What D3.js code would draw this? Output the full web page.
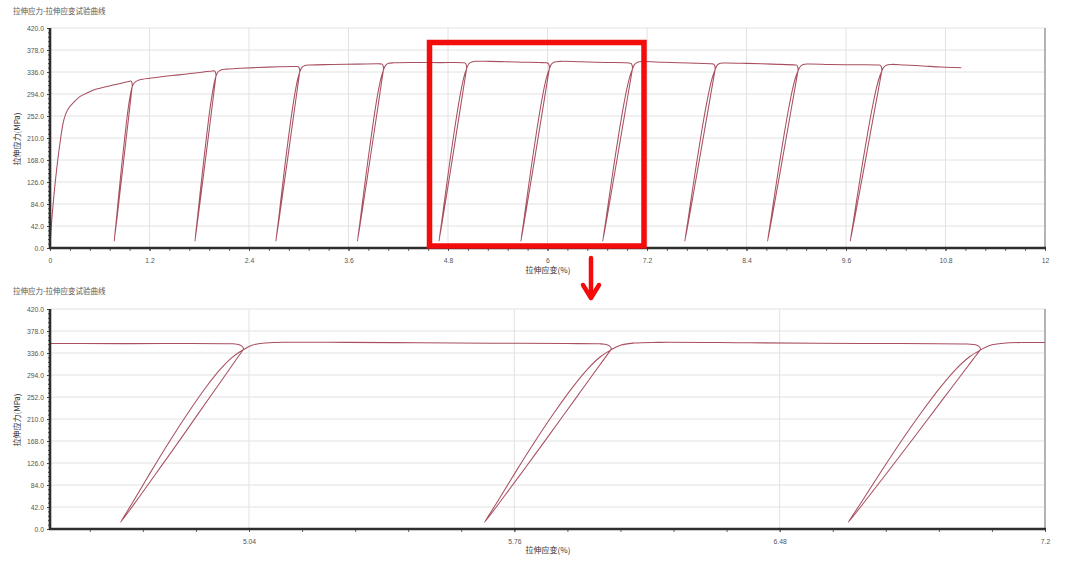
<!DOCTYPE html>
<html><head><meta charset="utf-8">
<script src="https://cdn.jsdelivr.net/npm/d3@7/dist/d3.min.js"></script>
<style>body{margin:0;background:#fff}svg{display:block}</style>
</head><body>
<svg id="c" width="1080" height="565"></svg>
<script>
// ---------- data ----------
const chartTitle = "拉伸应力-拉伸应变试验曲线";
const yAxisLabel = "拉伸应力(MPa)";
const xAxisLabel = "拉伸应变(%)";
const yTicks = [0, 42, 84, 126, 168, 210, 252, 294, 336, 378, 420];
const xTicksTop = [0, 1.2, 2.4, 3.6, 4.8, 6, 7.2, 8.4, 9.6, 10.8, 12];
const xTicksBottom = [5.04, 5.76, 6.48, 7.2];
const xDomainTop = [0, 12];
const xDomainBottom = [4.5, 7.2];
const yDomain = [0, 420];

// [strain %, stress MPa]
const initialLoading = [[0,0],[0.01,28],[0.04,88],[0.08,150],[0.12,200],[0.16,240],[0.19,256],[0.22,266],[0.28,277],[0.36,289],[0.46,297],[0.56,303.5],[0.66,307.5],[0.76,311],[0.86,314.5],[0.95,318]];
const cycle1 = [[0.975,318.8],[0.987,316.5],[0.992,311],[0.99,307],[0.979,292.1],[0.947,247.3],[0.914,202.6],[0.882,157.9],[0.845,107.8],[0.809,58.2],[0.774,12.8],[0.796,47],[0.828,99.7],[0.860,150.7],[0.893,199],[0.925,243.8],[0.951,275.1],[0.973,295.6],[0.99,307],[1.015,315],[1.05,319],[1.085,321],[1.2,324],[1.37,327.5],[1.55,330.5],[1.69,333],[1.85,336],[1.96,338]];
const cycle2 = [[1.985,338],[1.997,335],[2.002,329.5],[2.0,327],[1.987,311],[1.950,263.3],[1.912,215.5],[1.874,167.7],[1.831,114.3],[1.788,61.2],[1.748,12.8],[1.773,49.3],[1.811,105.7],[1.849,160.1],[1.887,211.7],[1.924,259.5],[1.955,292.9],[1.980,314.9],[2.0,327],[2.027,336],[2.063,340],[2.13,341.5],[2.3,343],[2.5,344.5],[2.77,346],[2.96,346.5]];
const cycle3 = [[2.995,346],[3.007,343],[3.012,337.5],[3.01,335],[2.996,318.6],[2.953,269.7],[2.910,220.7],[2.867,171.7],[2.818,116.8],[2.770,62.5],[2.724,12.8],[2.753,50.2],[2.796,108],[2.838,163.9],[2.881,216.8],[2.924,265.7],[2.959,300],[2.987,322.5],[3.01,335],[3.037,344.5],[3.073,348.5],[3.14,349.5],[3.4,350.3],[3.7,351],[3.99,351.5]];
const cycle4 = [[4.005,351],[4.017,348],[4.022,342.5],[4.02,339],[4.004,322.4],[3.958,272.8],[3.911,223.3],[3.864,173.7],[3.811,118.1],[3.758,63.1],[3.708,12.8],[3.739,50.7],[3.786,109.2],[3.833,165.7],[3.880,219.3],[3.926,268.9],[3.964,303.6],[3.995,326.4],[4.02,339],[4.047,348.5],[4.083,352.5],[4.15,353.6],[4.4,354.1],[4.7,353.9],[4.99,353.6]];
const cycle5 = [[5.008,352.8],[5.02,349.5],[5.025,344.5],[5.0233,341.7],[5.0067,325],[4.957,275],[4.9071,225],[4.8574,175],[4.8009,119],[4.7445,63.5],[4.6914,12.8],[4.7246,51],[4.7744,110],[4.8242,167],[4.874,221],[4.9237,271],[4.9636,306],[4.9967,329],[5.0233,341.7],[5.05,351.3],[5.087,355.2],[5.15,356.5],[5.3,356.3],[5.5,355.5],[5.7,354.8],[5.9,354],[5.99,353.5]];
const cycle6 = [[6.006,352.7],[6.018,349.5],[6.023,344],[6.021,341.5],[6.0039,324.8],[5.9526,274.8],[5.9013,224.9],[5.85,174.9],[5.7919,118.9],[5.7337,63.5],[5.679,12.8],[5.7132,51],[5.7645,110],[5.8158,167],[5.8671,220.9],[5.9184,270.8],[5.9594,305.8],[5.9936,328.8],[6.021,341.5],[6.048,351],[6.085,355],[6.15,356.3],[6.4,355.5],[6.7,354.3],[6.99,353]];
const cycle7 = [[7.008,352.2],[7.02,349],[7.025,343.5],[7.023,341],[7.0052,324.3],[6.9516,274.4],[6.898,224.6],[6.8445,174.7],[6.7838,118.8],[6.7231,63.4],[6.666,12.8],[6.7017,50.9],[6.7553,109.8],[6.8088,166.7],[6.8624,220.6],[6.9159,270.5],[6.9587,305.4],[6.9944,328.3],[7.023,341],[7.05,350.5],[7.087,354.8],[7.15,356],[7.4,354.5],[7.7,353],[7.99,351.5]];
const cycle8 = [[8.005,351],[8.017,348],[8.022,342.5],[8.02,339.5],[8.0018,322.9],[7.9472,273.2],[7.8926,223.6],[7.838,173.9],[7.7761,118.3],[7.7142,63.2],[7.656,12.8],[7.6924,50.7],[7.747,109.3],[7.8016,166],[7.8562,219.6],[7.9108,269.3],[7.9545,304],[7.9909,326.9],[8.02,339.5],[8.047,349],[8.083,352.8],[8.15,353.3],[8.4,352.5],[8.7,351],[8.99,349.5]];
const cycle9 = [[9.005,349],[9.017,346],[9.022,340.5],[9.02,337.5],[9.0017,321],[8.9468,271.6],[8.8919,222.3],[8.837,172.9],[8.7748,117.6],[8.7126,62.9],[8.654,12.8],[8.6906,50.5],[8.7455,108.8],[8.8004,165],[8.8553,218.3],[8.9102,267.7],[8.9541,302.3],[8.9907,325],[9.02,337.5],[9.047,346],[9.083,350.5],[9.15,351.3],[9.4,350.5],[9.7,349.8],[10.0,349.3]];
const cycle10 = [[10.015,348.7],[10.027,345.5],[10.032,340],[10.03,337],[10.0116,320.5],[9.9542,271.3],[9.8974,222],[9.8405,172.7],[9.7761,117.5],[9.7116,62.8],[9.651,12.8],[9.6889,50.5],[9.7458,108.6],[9.8026,164.8],[9.8595,218],[9.9163,267.3],[9.9618,301.8],[9.9997,324.5],[10.03,337],[10.057,345.5],[10.093,349.5],[10.15,350.5],[10.3,349.5],[10.53,347.5],[10.75,345.5],[10.99,344.2]];

const curve = [].concat(initialLoading, cycle1, cycle2, cycle3, cycle4, cycle5, cycle6, cycle7, cycle8, cycle9, cycle10);

// ---------- drawing ----------
const svg = d3.select("#c");
const LEFT = 50, RIGHT = 1045;
const lineColor = "#a84f60";
const gridColor = "#e2e2e2";
const labelFont = "'Liberation Sans', Arial, sans-serif";
const cjkFont = "'Noto Sans CJK SC', 'Noto Sans', sans-serif";

function drawChart(cfg) {
  const g = svg.append("g");
  const x = d3.scaleLinear().domain(cfg.xDomain).range([LEFT, RIGHT]);
  const y = d3.scaleLinear().domain(yDomain).range([cfg.bottom, cfg.top]);

  g.append("text").attr("x", 13).attr("y", cfg.titleY)
    .attr("font-family", cjkFont).attr("font-size", 7.5).attr("fill", "#555")
    .text(chartTitle);

  g.append("g").selectAll("line").data(yTicks.filter(d => d > 0)).join("line")
    .attr("x1", LEFT).attr("x2", RIGHT)
    .attr("y1", d => y(d)).attr("y2", d => y(d))
    .attr("stroke", gridColor).attr("stroke-width", 1);
  g.append("g").selectAll("line").data(cfg.xTicks.filter(d => d > cfg.xDomain[0] && d < cfg.xDomain[1])).join("line")
    .attr("y1", cfg.top).attr("y2", cfg.bottom)
    .attr("x1", d => x(d)).attr("x2", d => x(d))
    .attr("stroke", gridColor).attr("stroke-width", 1);

  g.append("line").attr("x1", RIGHT).attr("x2", RIGHT).attr("y1", cfg.top).attr("y2", cfg.bottom)
    .attr("stroke", "#9a9a9a").attr("stroke-width", 1.5);

  const clipId = "clip" + cfg.id;
  g.append("clipPath").attr("id", clipId).append("rect")
    .attr("x", LEFT).attr("y", cfg.top - 2).attr("width", RIGHT - LEFT).attr("height", cfg.bottom - cfg.top + 2);
  const line = d3.line().x(d => x(d[0])).y(d => y(d[1])).curve(d3.curveCatmullRom.alpha(0.5));
  g.append("path").datum(curve).attr("d", line)
    .attr("clip-path", `url(#${clipId})`)
    .attr("fill", "none").attr("stroke", lineColor).attr("stroke-width", 1.05)
    .attr("stroke-linejoin", "round");

  const yMinor = d3.range(0, 420.001, 8.4);
  g.append("g").attr("transform", `translate(${LEFT},0)`)
    .call(d3.axisLeft(y).tickValues(yMinor).tickSize(2).tickFormat(""))
    .call(s => s.select(".domain").remove())
    .call(s => s.selectAll("line").attr("stroke", "#444"));
  g.append("g").attr("transform", `translate(0,${cfg.bottom})`)
    .call(d3.axisBottom(x).tickValues(cfg.xMinor).tickSize(3).tickFormat(""))
    .call(s => s.select(".domain").remove())
    .call(s => s.selectAll("line").attr("stroke", "#666"));

  const ya = g.append("g").attr("transform", `translate(${LEFT},0)`)
    .call(d3.axisLeft(y).tickValues(yTicks).tickSize(3).tickPadding(3).tickFormat(d3.format(".1f")));
  ya.select(".domain").remove();
  ya.selectAll("line").attr("stroke", "#444");
  ya.selectAll("text").attr("font-family", labelFont).attr("font-size", 6.8).attr("fill", "#555");

  const xa = g.append("g").attr("transform", `translate(0,${cfg.bottom})`)
    .call(d3.axisBottom(x).tickValues(cfg.xTicks).tickSize(3).tickPadding(7).tickFormat(d => d3.format("")(+d.toFixed(2))));
  xa.select(".domain").remove();
  xa.selectAll("line").attr("stroke", "#555");
  xa.selectAll("text").attr("font-family", labelFont).attr("font-size", 6.8).attr("fill", "#555");

  g.append("line").attr("x1", LEFT).attr("x2", LEFT).attr("y1", cfg.top).attr("y2", cfg.bottom + 1)
    .attr("stroke", "#2e2e2e").attr("stroke-width", 2.6);
  g.append("line").attr("x1", LEFT - 1).attr("x2", RIGHT + 1).attr("y1", cfg.bottom).attr("y2", cfg.bottom)
    .attr("stroke", "#2e2e2e").attr("stroke-width", 2.4);

  g.append("text").attr("transform", `translate(20,${(cfg.top + cfg.bottom) / 2 + 1}) rotate(-90)`)
    .attr("text-anchor", "middle").attr("font-family", cjkFont).attr("font-size", 8).attr("fill", "#333")
    .text(yAxisLabel);
  g.append("text").attr("x", 548).attr("y", cfg.xLabelY)
    .attr("text-anchor", "middle").attr("font-family", cjkFont).attr("font-size", 8).attr("fill", "#333")
    .text(xAxisLabel);
  return x;
}

drawChart({ id: "t", top: 28, bottom: 248, titleY: 14, xLabelY: 273,
  xDomain: xDomainTop, xTicks: xTicksTop, xMinor: d3.range(0, 12.001, 0.24) });
drawChart({ id: "b", top: 309, bottom: 529, titleY: 294, xLabelY: 553,
  xDomain: xDomainBottom, xTicks: xTicksBottom, xMinor: d3.range(4.608, 7.201, 0.144) });

// ---------- annotation: zoom box and arrow ----------
const ann = svg.append("g");
ann.append("rect").attr("x", 429.5).attr("y", 42.5).attr("width", 214.5).attr("height", 203.5)
  .attr("fill", "none").attr("stroke", "#f20c0c").attr("stroke-width", 5.5);
ann.append("line").attr("x1", 591).attr("x2", 591).attr("y1", 258).attr("y2", 297)
  .attr("stroke", "#f20c0c").attr("stroke-width", 4.5).attr("stroke-linecap", "round");
ann.append("path").attr("d", "M583,285 L591,298 L599,285")
  .attr("fill", "none").attr("stroke", "#f20c0c").attr("stroke-width", 4.5)
  .attr("stroke-linecap", "round").attr("stroke-linejoin", "round");
</script>
</body></html>
